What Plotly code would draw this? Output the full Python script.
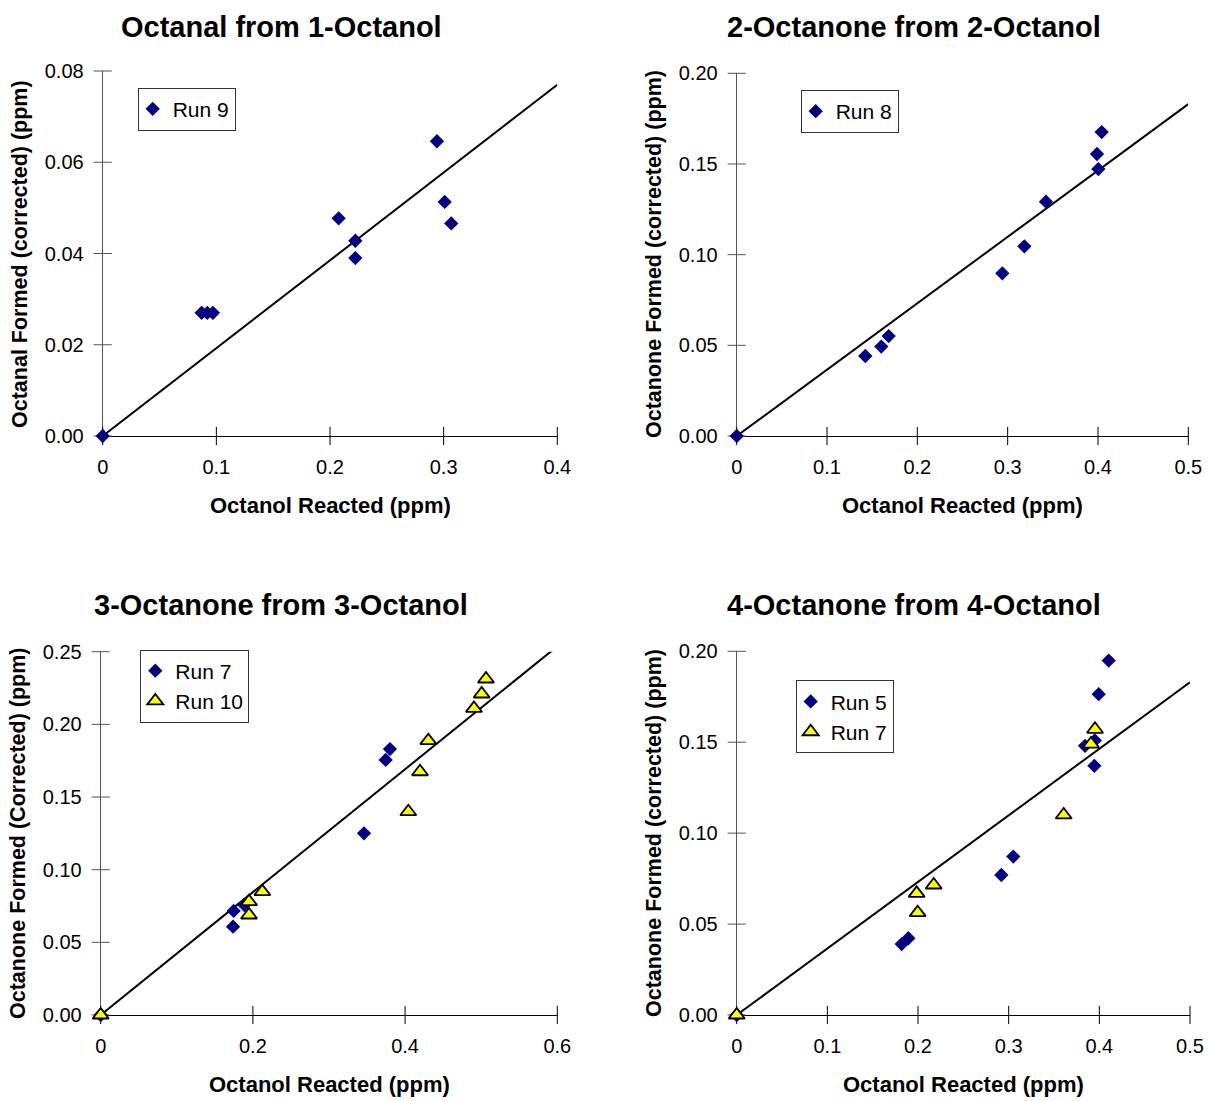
import plotly.graph_objects as go

W, H = 1209, 1101
FONT = "Liberation Sans, Arial, sans-serif"

# ---------------- data ----------------
titles = ["Octanal from 1-Octanol", "2-Octanone from 2-Octanol",
          "3-Octanone from 3-Octanol", "4-Octanone from 4-Octanol"]
x_titles = ["Octanol Reacted (ppm)"] * 4
y_titles = ["Octanal Formed (corrected) (ppm)", "Octanone Formed (corrected) (ppm)",
            "Octanone Formed (Corrected) (ppm)", "Octanone Formed (corrected) (ppm)"]

# Panel 1
run9_x = [0, 0.087, 0.092, 0.097, 0.2076, 0.2223, 0.2223, 0.2941, 0.3009, 0.3067]
run9_y = [0, 0.027, 0.027, 0.027, 0.0477, 0.0428, 0.0390, 0.0646, 0.0513, 0.0466]
# Panel 2
run8_x = [0, 0.1424, 0.1601, 0.1683, 0.2941, 0.3185, 0.3424, 0.4004, 0.3989, 0.4041]
run8_y = [0, 0.0441, 0.0493, 0.0551, 0.0897, 0.1046, 0.1292, 0.1472, 0.1555, 0.1676]
# Panel 3
p3_run7_x = [0, 0.1739, 0.1747, 0.1888, 0.346, 0.3745, 0.3801]
p3_run7_y = [0, 0.0608, 0.0716, 0.0757, 0.125, 0.1755, 0.183]
run10_x = [0, 0.1949, 0.1949, 0.2124, 0.4042, 0.4196, 0.4305, 0.4905, 0.5006, 0.5063]
run10_y = [0, 0.078, 0.0688, 0.0849, 0.1399, 0.1674, 0.1888, 0.211, 0.2209, 0.2312]
# Panel 4
run5_x = [0, 0.182, 0.1893, 0.2919, 0.3051, 0.3842, 0.395, 0.3945, 0.3993, 0.4103]
run5_y = [0, 0.039, 0.0422, 0.077, 0.0871, 0.148, 0.151, 0.137, 0.1764, 0.1949]
p4_run7_x = [0, 0.1985, 0.1996, 0.2173, 0.3607, 0.3908, 0.3952]
p4_run7_y = [0, 0.0669, 0.0563, 0.0715, 0.11, 0.149, 0.1571]

# reference lines (start, end)
line1_x, line1_y = [0, 0.4], [0, 0.077]
line2_x, line2_y = [0, 0.5], [0, 0.183]
line3_x, line3_y = [0, 0.6], [0, 0.2537]
line4_x, line4_y = [0, 0.5], [0, 0.183]

# ticks
p1_xticks = [0, 0.1, 0.2, 0.3, 0.4]
p1_xlabels = ["0", "0.1", "0.2", "0.3", "0.4"]
p1_yticks = [0, 0.02, 0.04, 0.06, 0.08]
p1_ylabels = ["0.00", "0.02", "0.04", "0.06", "0.08"]
p2_xticks = [0, 0.1, 0.2, 0.3, 0.4, 0.5]
p2_xlabels = ["0", "0.1", "0.2", "0.3", "0.4", "0.5"]
p2_yticks = [0, 0.05, 0.10, 0.15, 0.20]
p2_ylabels = ["0.00", "0.05", "0.10", "0.15", "0.20"]
p3_xticks = [0, 0.2, 0.4, 0.6]
p3_xlabels = ["0", "0.2", "0.4", "0.6"]
p3_yticks = [0, 0.05, 0.10, 0.15, 0.20, 0.25]
p3_ylabels = ["0.00", "0.05", "0.10", "0.15", "0.20", "0.25"]
p4_xticks = p2_xticks
p4_xlabels = p2_xlabels
p4_yticks = p2_yticks
p4_ylabels = p2_ylabels

# ---------------- styling / layout ----------------
NAVY = "#000080"
YELLOW = "#FFFF00"

# plot area pixel boxes: (left, right, top, bottom)
boxes = [(102.7, 557.3, 71, 436), (736.7, 1188.3, 73.3, 436),
         (100.7, 557.3, 651.7, 1015), (736.7, 1190, 651.3, 1015)]
legend_pos = [(137.7, 109.2), (800.7, 111.5), (140.3, 686), (795.7, 716.8)]
title_pos = [(281, 27), (913.5, 27), (281, 605), (913.5, 605)]
xtitle_pos = [(330, 505), (962.5, 505), (329.5, 1084), (963, 1084)]
ytitle_pos = [(20, 254), (654, 254), (18, 833), (654, 833)]

xticks = [p1_xticks, p2_xticks, p3_xticks, p4_xticks]
xlabels = [p1_xlabels, p2_xlabels, p3_xlabels, p4_xlabels]
yticks = [p1_yticks, p2_yticks, p3_yticks, p4_yticks]
ylabels = [p1_ylabels, p2_ylabels, p3_ylabels, p4_ylabels]

series = [
    [("Run 9", run9_x, run9_y, "diamond")],
    [("Run 8", run8_x, run8_y, "diamond")],
    [("Run 7", p3_run7_x, p3_run7_y, "diamond"), ("Run 10", run10_x, run10_y, "triangle")],
    [("Run 5", run5_x, run5_y, "diamond"), ("Run 7", p4_run7_x, p4_run7_y, "triangle")],
]
lines = [(line1_x, line1_y), (line2_x, line2_y), (line3_x, line3_y), (line4_x, line4_y)]

fig = go.Figure()
layout = dict(width=W, height=H, autosize=False, margin=dict(l=0, r=0, t=0, b=0, pad=0),
              paper_bgcolor="white", plot_bgcolor="white", showlegend=True,
              font=dict(family=FONT, color="black"))
annotations = []

for i in range(4):
    n = i + 1
    xa = "x" if n == 1 else f"x{n}"
    ya = "y" if n == 1 else f"y{n}"
    lg = "legend" if n == 1 else f"legend{n}"
    l, r, t, b = boxes[i]
    layout[f"xaxis{'' if n == 1 else n}"] = dict(
        domain=[l / W, r / W], range=[0, xticks[i][-1]], anchor=ya,
        tickvals=xticks[i], ticktext=xlabels[i], ticks="", showgrid=False,
        zeroline=False, showline=True, linecolor="black", linewidth=1,
        tickfont=dict(size=20, family=FONT), ticklabelstandoff=13, layer="below traces",
        automargin=False, fixedrange=True)
    layout[f"yaxis{'' if n == 1 else n}"] = dict(
        domain=[1 - b / H, 1 - t / H], range=[0, yticks[i][-1]], anchor=xa,
        tickvals=yticks[i], ticktext=ylabels[i], ticks="", showgrid=False,
        zeroline=False, showline=True, linecolor="#555555", linewidth=1,
        tickfont=dict(size=20, family=FONT), ticklabelstandoff=14, layer="below traces",
        automargin=False, fixedrange=True)
    lx, ly = legend_pos[i]
    layout[lg] = dict(x=lx / W, y=1 - ly / H, xanchor="left", yanchor="middle",
                      bgcolor="white", bordercolor="#333333", borderwidth=1,
                      font=dict(size=21, family=FONT), itemwidth=30, indentation=-6,
                      tracegroupgap=0, itemsizing="trace")

    # crossing tick marks
    fig.add_trace(go.Scatter(x=xticks[i], y=[0] * len(xticks[i]), xaxis=xa, yaxis=ya,
                             mode="markers", cliponaxis=False, showlegend=False, hoverinfo="skip",
                             marker=dict(symbol="line-ns-open", size=13, color="black",
                                         line=dict(color="black", width=1))))
    fig.add_trace(go.Scatter(x=[0] * len(yticks[i]), y=yticks[i], xaxis=xa, yaxis=ya,
                             mode="markers", cliponaxis=False, showlegend=False, hoverinfo="skip",
                             marker=dict(symbol="line-ew-open", size=13, color="#555555",
                                         line=dict(color="#555555", width=1))))
    # reference line
    fx, fy = lines[i]
    fig.add_trace(go.Scatter(x=fx, y=fy, xaxis=xa, yaxis=ya, mode="lines",
                             showlegend=False, hoverinfo="skip",
                             line=dict(color="black", width=2)))
    for name, sx, sy, kind in series[i]:
        if kind == "diamond":
            mk = dict(symbol="diamond", size=11, color=NAVY, line=dict(width=0))
        else:
            mk = dict(symbol="triangle-up", size=14, color=YELLOW,
                      line=dict(color="black", width=1.8))
        fig.add_trace(go.Scatter(x=sx, y=sy, xaxis=xa, yaxis=ya, mode="markers",
                                 name=name, legend=lg, cliponaxis=False, marker=mk))

    tx, ty = title_pos[i]
    annotations.append(dict(text=f"<b>{titles[i]}</b>", x=tx / W, y=1 - ty / H,
                            xref="paper", yref="paper", showarrow=False,
                            xanchor="center", yanchor="middle",
                            font=dict(size=29, family=FONT)))
    ax_, ay_ = xtitle_pos[i]
    annotations.append(dict(text=f"<b>{x_titles[i]}</b>", x=ax_ / W, y=1 - ay_ / H,
                            xref="paper", yref="paper", showarrow=False,
                            xanchor="center", yanchor="middle",
                            font=dict(size=22, family=FONT)))
    bx, by = ytitle_pos[i]
    annotations.append(dict(text=f"<b>{y_titles[i]}</b>", x=bx / W, y=1 - by / H,
                            xref="paper", yref="paper", showarrow=False, textangle=-90,
                            xanchor="center", yanchor="middle",
                            font=dict(size=21.5, family=FONT)))

layout["annotations"] = annotations
fig.update_layout(**layout)
fig.write_html("out.html", config={"displayModeBar": False})
